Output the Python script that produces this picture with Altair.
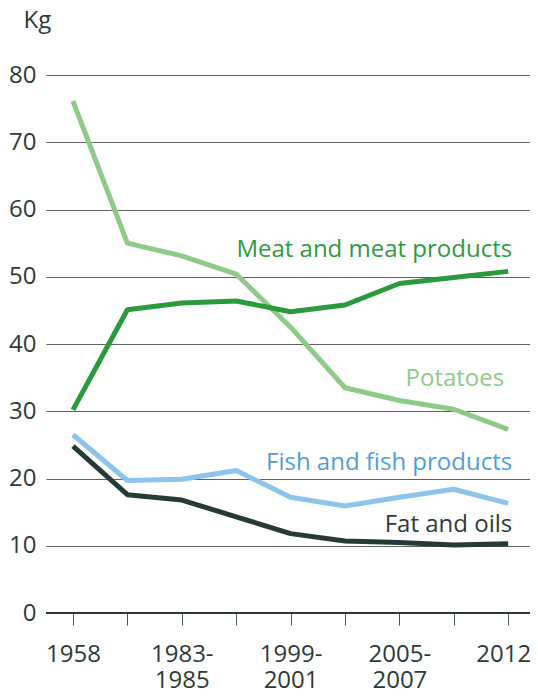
import altair as alt
import pandas as pd
import json

periods = ["1958", "1973", "1983-1985", "1989-1991", "1999-2001",
           "2002-2004", "2005-2007", "2009", "2012"]
shown_labels = ["1958", "1983-1985", "1999-2001", "2005-2007", "2012"]

series_names = ["Potatoes", "Meat and meat products", "Fish and fish products", "Fat and oils"]
potatoes = [76.1, 55.0, 53.1, 50.4, 42.5, 33.5, 31.6, 30.3, 27.3]
meat = [30.2, 45.1, 46.1, 46.4, 44.8, 45.8, 49.0, 49.9, 50.8]
fish = [26.5, 19.7, 19.9, 21.2, 17.2, 15.9, 17.2, 18.4, 16.3]
fat = [24.8, 17.6, 16.8, 14.3, 11.8, 10.7, 10.5, 10.1, 10.3]

label_values = [33.8, 52.9, 21.2, 12.0]

line_colors = ["#8fca88", "#2b9a3c", "#8ec4ea", "#263a37"]
text_colors = ["#8fca88", "#2e9b40", "#4f9fd8", "#2d3b38"]
label_dx = [-4, 4, 4, 4]

rows = []
for name, vals in zip(series_names, [potatoes, meat, fish, fat]):
    for p, v in zip(periods, vals):
        rows.append({"period": p, "value": v, "series": name})
df = pd.DataFrame(rows)

FONT = "Open Sans"
INK = "#2d3b38"
FS = 24

shown_js = json.dumps(shown_labels).replace('"', "'")
label_expr = (
    f"indexof({shown_js}, datum.value) < 0 ? '' : "
    "(length(datum.value) > 4 ? [slice(datum.value, 0, 5), slice(datum.value, 5)] : datum.value)"
)

x_scale = alt.Scale(domain=periods, padding=0.4485, align=0.553)

x_enc = alt.X(
    "period:O",
    sort=periods,
    scale=x_scale,
    axis=alt.Axis(
        title=None,
        labelAngle=0,
        labelExpr=label_expr,
        labelFont=FONT,
        labelFontSize=FS,
        labelColor=INK,
        labelLineHeight=26,
        labelPadding=17,
        labelOffset=alt.condition(f"datum.value == '{periods[-1]}'", alt.value(-5), alt.value(0)),
        tickSize=12,
        tickColor="#4a5754",
        tickWidth=1,
        domain=False,
        grid=False,
    ),
)
y_enc = alt.Y(
    "value:Q",
    scale=alt.Scale(domain=[0, 80], nice=False, zero=True),
    axis=alt.Axis(
        values=list(range(0, 81, 10)),
        title="Kg",
        titleAngle=0,
        titleAlign="left",
        titleBaseline="alphabetic",
        titleX=-23,
        titleY=-48,
        titleFont=FONT,
        titleFontSize=FS,
        titleFontWeight="normal",
        titleColor=INK,
        labelFont=FONT,
        labelFontSize=FS,
        labelColor=INK,
        labelPadding=10,
        ticks=False,
        domain=False,
        grid=True,
        gridColor="#3c4a47",
        gridWidth=1,
        gridOpacity=0.85,
    ),
)

base = alt.Chart(df)

layers = []
for name, col in zip(series_names, line_colors):
    layers.append(
        base.transform_filter(alt.datum.series == name)
        .mark_line(strokeWidth=5, color=col, strokeJoin="round", strokeCap="butt")
        .encode(x=x_enc, y=y_enc)
    )

zero_rule = base.mark_rule(color=INK, strokeWidth=1.5).encode(y=alt.datum(0))

lab_df = pd.DataFrame({"series": series_names, "value": label_values, "period": [periods[-1]] * 4})
for name, col, dx in zip(series_names, text_colors, label_dx):
    layers.append(
        alt.Chart(lab_df)
        .transform_filter(alt.datum.series == name)
        .mark_text(align="right", baseline="alphabetic", font=FONT, fontSize=FS, color=col, dx=dx)
        .encode(x=alt.X("period:O", sort=periods), y=alt.Y("value:Q"), text="series:N")
    )

chart = (
    alt.layer(zero_rule, *layers)
    .properties(
        width=484,
        height=538,
        autosize=alt.AutoSizeParams(type="none"),
        padding={"left": 38, "top": 67, "right": 0, "bottom": 75},
    )
    .configure_view(stroke=None)
)

chart.save("out.html", embed_options={"renderer": "svg", "actions": False})
